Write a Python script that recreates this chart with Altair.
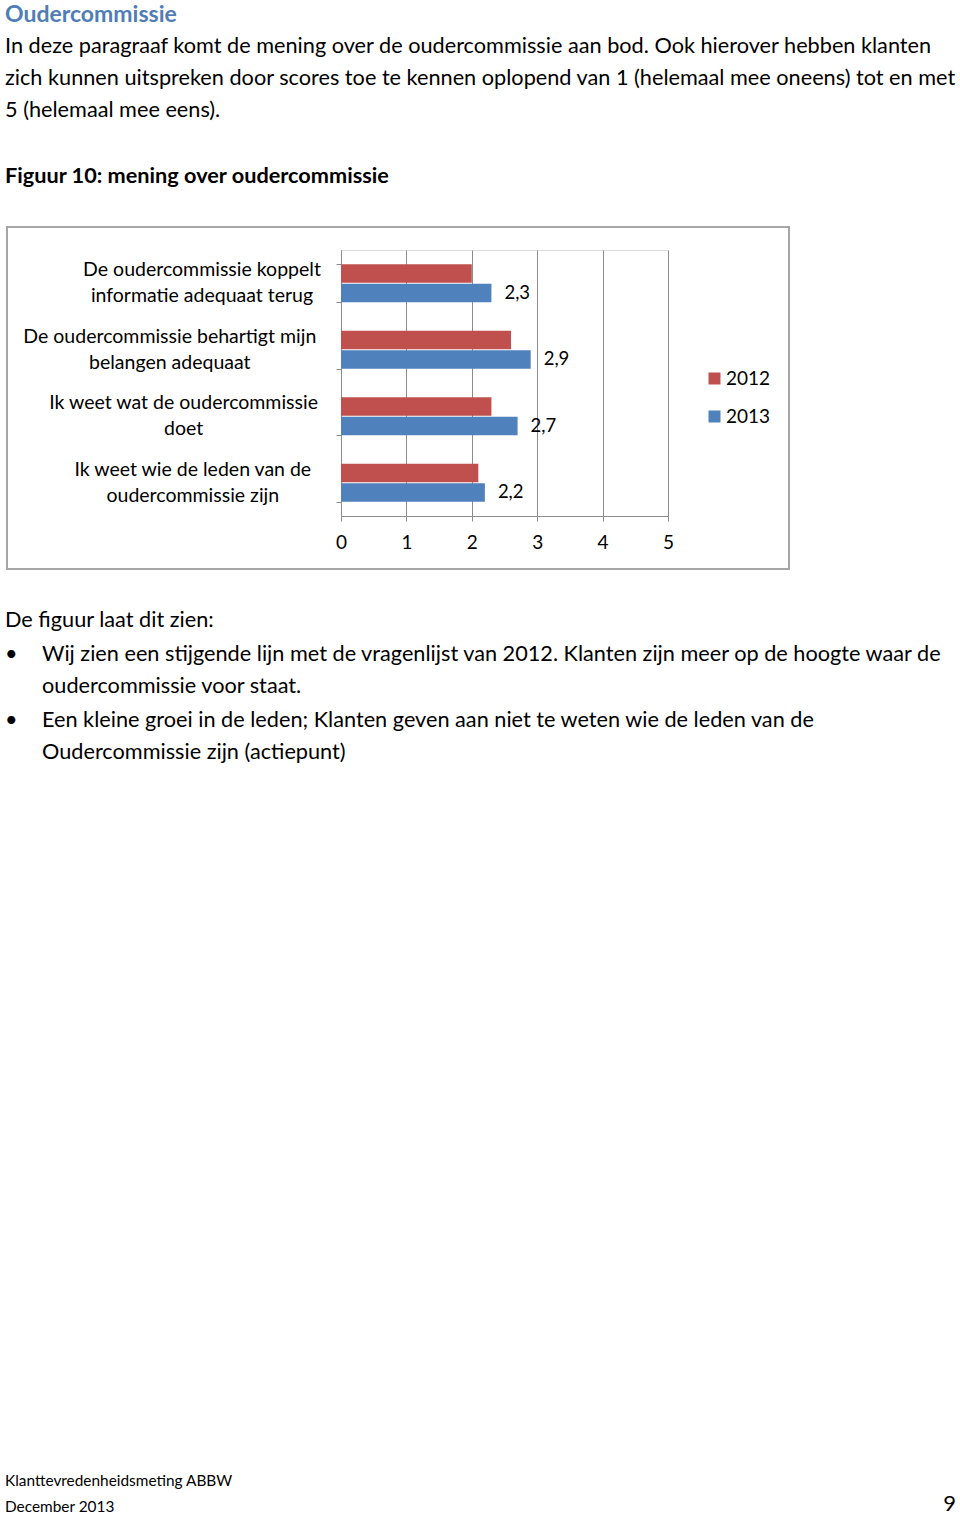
import altair as alt
import pandas as pd

# ---- data ----
categories = [
    "De oudercommissie koppelt|informatie adequaat terug",
    "De oudercommissie behartigt mijn|belangen adequaat",
    "Ik weet wat de oudercommissie|doet",
    "Ik weet wie de leden van de|oudercommissie zijn",
]
years = ["2012", "2013"]
values_2012 = [2.0, 2.6, 2.3, 2.1]
values_2013 = [2.3, 2.9, 2.7, 2.2]
x_ticks = [0, 1, 2, 3, 4, 5]

heading = "Oudercommissie"
intro_lines = [
    "In deze paragraaf komt de mening over de oudercommissie aan bod. Ook hierover hebben klanten",
    "zich kunnen uitspreken door scores toe te kennen oplopend van 1 (helemaal mee oneens) tot en met",
    "5 (helemaal mee eens).",
]
figure_caption = "Figuur 10: mening over oudercommissie"
after_intro = "De figuur laat dit zien:"
bullet_1 = ["Wij zien een stijgende lijn met de vragenlijst van 2012. Klanten zijn meer op de hoogte waar de",
            "oudercommissie voor staat."]
bullet_2 = ["Een kleine groei in de leden; Klanten geven aan niet te weten wie de leden van de",
            "Oudercommissie zijn (actiepunt)"]
footer_1 = "Klanttevredenheidsmeting ABBW"
footer_2 = "December 2013"
page_no = "9"

rows = []
for c, a, b in zip(categories, values_2012, values_2013):
    rows.append({"cat": c, "year": "2012", "v": a})
    rows.append({"cat": c, "year": "2013", "v": b})
df = pd.DataFrame(rows)
cat_df = pd.DataFrame({"cat": categories})

FONT = "Lato"
W, H = 327, 266
OX, OY = 341, 250
GRID = "#8c8c8c"

y_enc = alt.Y(
    "cat:N", sort=categories,
    scale=alt.Scale(paddingInner=0.43, paddingOuter=0.215),
    axis=alt.Axis(title=None, labels=False, tickBand="extent", tickSize=5,
                  domainColor=GRID, tickColor=GRID, grid=False),
)
x_enc = alt.X(
    "v:Q", scale=alt.Scale(domain=[0, 5], nice=False),
    axis=alt.Axis(values=x_ticks, title=None, grid=True, gridColor=GRID,
                  domainColor=GRID, tickColor=GRID, tickSize=5, format="d",
                  labelFont=FONT, labelFontSize=19, labelColor="#000000",
                  labelPadding=12, labelFlush=False),
)
yoff = alt.YOffset("year:N", sort=years, scale=alt.Scale(paddingInner=0.04))

bars = alt.Chart(df).mark_bar().encode(
    x=x_enc, y=y_enc, yOffset=yoff,
    color=alt.Color("year:N", sort=years,
                    scale=alt.Scale(domain=years, range=["#c0504d", "#4f81bd"]),
                    legend=alt.Legend(title=None, orient="none", legendX=364, legendY=119,
                                      symbolType="square", symbolSize=144, symbolStrokeWidth=0,
                                      labelFont=FONT, labelFontSize=19, labelColor="#000000",
                                      rowPadding=18, labelOffset=2, padding=0)),
)

labels = alt.Chart(df).transform_filter(
    alt.datum.year == "2013"
).transform_calculate(
    lab="replace(format(datum.v, '.1f'), '.', ',')"
).mark_text(align="left", baseline="middle", dx=13, font=FONT, fontSize=18.5, color="#000000").encode(
    x="v:Q", y=alt.Y("cat:N", sort=categories), yOffset=yoff, text="lab:N",
)

cat_labels = alt.Chart(cat_df).transform_calculate(
    lines="split(datum.cat, '|')",
    cx="-24 - max(length(split(datum.cat, '|')[0]), length(split(datum.cat, '|')[1])) * 4.6",
).mark_text(align="center", baseline="middle", font=FONT, fontSize=19.5, lineHeight=26,
            dy=-13, color="#000000").encode(
    x=alt.X("cx:Q", scale=None, axis=None),
    y=alt.Y("cat:N", sort=categories),
    text="lines:N",
)

dummy = pd.DataFrame({"k": [0]})


def page_text(s, x, y, size=20, weight="normal", color="#000000", align="left"):
    return alt.Chart(dummy).mark_text(
        text=s, align=align, baseline="middle", font=FONT, fontSize=size,
        fontWeight=weight, color=color,
    ).encode(x=alt.value(x - OX), y=alt.value(y - OY))


BODY = 21.7
texts = [
    page_text(heading, 5, 15, size=23, weight="bold", color="#4f7db6"),
    page_text(intro_lines[0], 5, 46, BODY),
    page_text(intro_lines[1], 5, 78, BODY),
    page_text(intro_lines[2], 5, 110, BODY),
    page_text(figure_caption, 5, 176, BODY, weight="bold"),
    page_text(after_intro, 5, 620, BODY),
    page_text("•", 5, 654, BODY),
    page_text(bullet_1[0], 42, 654, BODY),
    page_text(bullet_1[1], 42, 686, BODY),
    page_text("•", 5, 720, BODY),
    page_text(bullet_2[0], 42, 720, BODY),
    page_text(bullet_2[1], 42, 752, BODY),
    page_text(footer_1, 5, 1481, 15.4),
    page_text(footer_2, 5, 1507, 15.4),
    page_text(page_no, 956, 1504, 22, align="right"),
]

frame = alt.Chart(dummy).mark_rect(fillOpacity=0, stroke="#a6a6a6", strokeWidth=2).encode(
    x=alt.value(7 - OX), x2=alt.value(789 - OX), y=alt.value(227 - OY), y2=alt.value(569 - OY)
)

chart = alt.layer(frame, bars, labels, cat_labels, *texts).properties(
    width=W, height=H,
    padding={"left": OX, "top": OY, "right": 960 - OX - W, "bottom": 1515 - OY - H},
    autosize=alt.AutoSizeParams(type="none"),
).configure_view(stroke=None).configure(background="white")

chart.save("out.html", embed_options={"renderer": "svg", "actions": False})
